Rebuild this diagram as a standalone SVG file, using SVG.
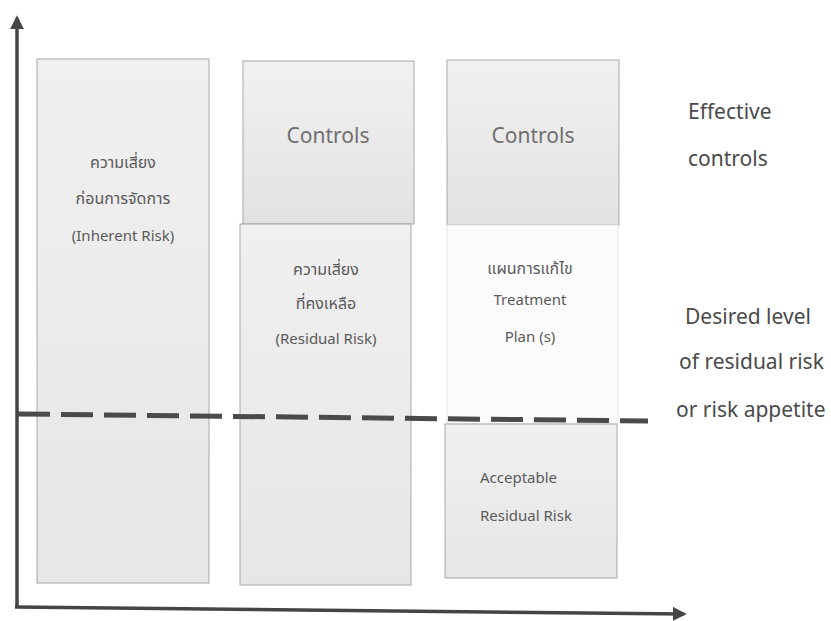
<svg xmlns="http://www.w3.org/2000/svg" width="831" height="621" viewBox="0 0 831 621">
<defs>
<linearGradient id="gCtrl" x1="0" y1="0" x2="0" y2="1">
<stop offset="0" stop-color="#f1f1f1"/><stop offset="1" stop-color="#e2e2e2"/>
</linearGradient>
<linearGradient id="gBox" x1="0" y1="0" x2="0" y2="1">
<stop offset="0" stop-color="#f0f0f0"/><stop offset="1" stop-color="#e6e6e6"/>
</linearGradient>
<marker id="arr" viewBox="0 0 10 10" refX="8" refY="5" markerWidth="4" markerHeight="4" orient="auto">
<path d="M0,0 L10,5 L0,10 Z" fill="#454545"/>
</marker>
<style>
.box{stroke:#a8a8a8;stroke-width:1}
.t{font-family:"Noto Sans","Noto Sans Thai","DejaVu Sans",sans-serif;fill:#5a5a5a;text-anchor:middle}
.s{font-size:15px}
.th{font-size:16px}
.c{font-size:21px;fill:#707070}
.r{font-size:21px;text-anchor:start;fill:#4a4a4a}
.axis{stroke:#454545;stroke-width:3.5;fill:none}
</style>
</defs>
<rect width="831" height="621" fill="#ffffff"/>
<g id="inherent">
<rect class="box" x="37" y="59" width="172" height="524" fill="url(#gBox)"/>
<text class="t th" x="123" y="168">ความเสี่ยง</text>
<text class="t th" x="123" y="204">ก่อนการจัดการ</text>
<text class="t s" x="123" y="241">(Inherent Risk)</text>
</g>
<g id="controls1">
<rect class="box" x="243" y="61" width="171" height="163" fill="url(#gCtrl)"/>
<text class="t c" x="328" y="143">Controls</text>
</g>
<g id="residual">
<rect class="box" x="240" y="224" width="171" height="361" fill="url(#gBox)"/>
<text class="t th" x="326" y="275">ความเสี่ยง</text>
<text class="t th" x="326" y="309">ที่คงเหลือ</text>
<text class="t s" x="326" y="344">(Residual Risk)</text>
</g>
<g id="controls2">
<rect class="box" x="447" y="60" width="172" height="165" fill="url(#gCtrl)"/>
<text class="t c" x="533" y="143">Controls</text>
</g>
<g id="plan">
<rect x="447" y="225" width="171" height="199" fill="#fbfbfb" stroke="#e6e6e6" stroke-width="1"/>
<text class="t th" x="530" y="274">แผนการแก้ไข</text>
<text class="t s" x="530" y="305">Treatment</text>
<text class="t s" x="530" y="342">Plan (s)</text>
</g>
<g id="acceptable">
<rect class="box" x="445" y="424" width="172" height="154" fill="url(#gBox)"/>
<text class="t s" x="480" y="483" style="text-anchor:start">Acceptable</text>
<text class="t s" x="480" y="521" style="text-anchor:start">Residual Risk</text>
</g>
<g id="labels">
<text class="t r" x="688" y="119">Effective</text>
<text class="t r" x="688" y="166">controls</text>
<text class="t r" x="685" y="324">Desired level</text>
<text class="t r" x="679" y="369">of residual risk</text>
<text class="t r" x="676" y="417">or risk appetite</text>
</g>
<g id="connectors">
<path class="axis" d="M17,607 L17,18" marker-end="url(#arr)"/>
<path class="axis" d="M15,607 L684,614" marker-end="url(#arr)"/>
<path d="M18,414 L648,421" stroke="#4a4a4a" stroke-width="5" stroke-dasharray="32,11" fill="none"/>
</g>
</svg>
